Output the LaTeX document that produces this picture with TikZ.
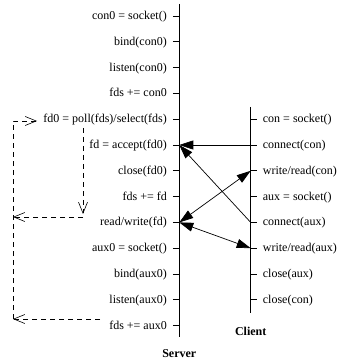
\documentclass[tikz,border=0pt]{standalone}
\usepackage{fontspec}
\setmainfont{Liberation Serif}
\usetikzlibrary{arrows.meta}
\begin{document}
\begin{tikzpicture}[x=1pt,y=-1pt,
  lifeline/.style={line width=0.9pt},
  tickmark/.style={line width=0.8pt},
  msg/.style={line width=0.7pt,-{Triangle[length=14pt,width=9pt]}},
  msgboth/.style={line width=0.7pt,{Triangle[length=14pt,width=9pt]}-{Triangle[length=14pt,width=9pt]}},
  loopline/.style={line width=0.6pt,dash pattern=on 5pt off 4pt},
  openhead/.style={-{Straight Barb[length=11pt,width=9pt,line width=0.6pt]}},
  slabel/.style={anchor=base east,inner sep=0pt,font=\fontsize{12}{14}\selectfont},
  clabel/.style={anchor=base west,inner sep=0pt,font=\fontsize{12}{14}\selectfont},
  title/.style={anchor=base,inner sep=0pt,font=\fontsize{12}{14}\selectfont\bfseries}]
\useasboundingbox (0,0) rectangle (340,363);

% lifelines
\coordinate (stop) at (179.3,4);
\coordinate (sbot) at (179.3,337);
\coordinate (ctop) at (250.7,107);
\coordinate (cbot) at (250.7,313);
\draw[lifeline] (stop) -- (sbot);
\draw[lifeline] (ctop) -- (cbot);

% server steps
\foreach \t [count=\k from 0] in {con0 = socket(), bind(con0), listen(con0), fds += con0,
    fd0 = poll(fds)/select(fds), fd = accept(fd0), close(fd0), fds += fd, read/write(fd),
    aux0 = socket(), bind(aux0), listen(aux0), fds += aux0} {
  \coordinate (s\k) at (179.3,{16+25.8*\k});
  \node[slabel] (sl\k) at (167,{19.5+25.8*\k}) {\t};
  \draw[tickmark] ([xshift=-6.5pt]s\k) -- (s\k);
}

% client steps
\foreach \t [count=\k from 4] in {con = socket(), connect(con), write/read(con), aux = socket(),
    connect(aux), write/read(aux), close(aux), close(con)} {
  \coordinate (c\k) at (250.7,{16+25.8*\k});
  \node[clabel] (cl\k) at (262.7,{19.5+25.8*\k}) {\t};
  \draw[tickmark] (c\k) -- ([xshift=6.5pt]c\k);
}

\node[title] (server) at (179.3,357) {Server};
\node[title] (client) at (250.7,335) {Client};

% messages
\draw[msg] (c5) -- (s5);
\draw[msg] (c8) -- (s5);
\draw[msgboth] (s8) -- (c6);
\draw[msgboth] (s8) -- (c9);

% event loop
\coordinate (la) at (83,128);
\coordinate (lb) at (83,214);
\coordinate (lc) at (83,217);
\coordinate (ld) at (13,217);
\coordinate (le) at (100,319);
\coordinate (lf) at (13,319);
\coordinate (lg) at (13,121);
\coordinate (lh) at (37,121);
\draw[loopline,openhead] (la) -- (lb);
\draw[loopline,openhead] (lc) -- (ld);
\draw[loopline,openhead] (le) -- (lf);
\draw[loopline,openhead] (lf) -- (lg) -- (lh);
\end{tikzpicture}
\end{document}
